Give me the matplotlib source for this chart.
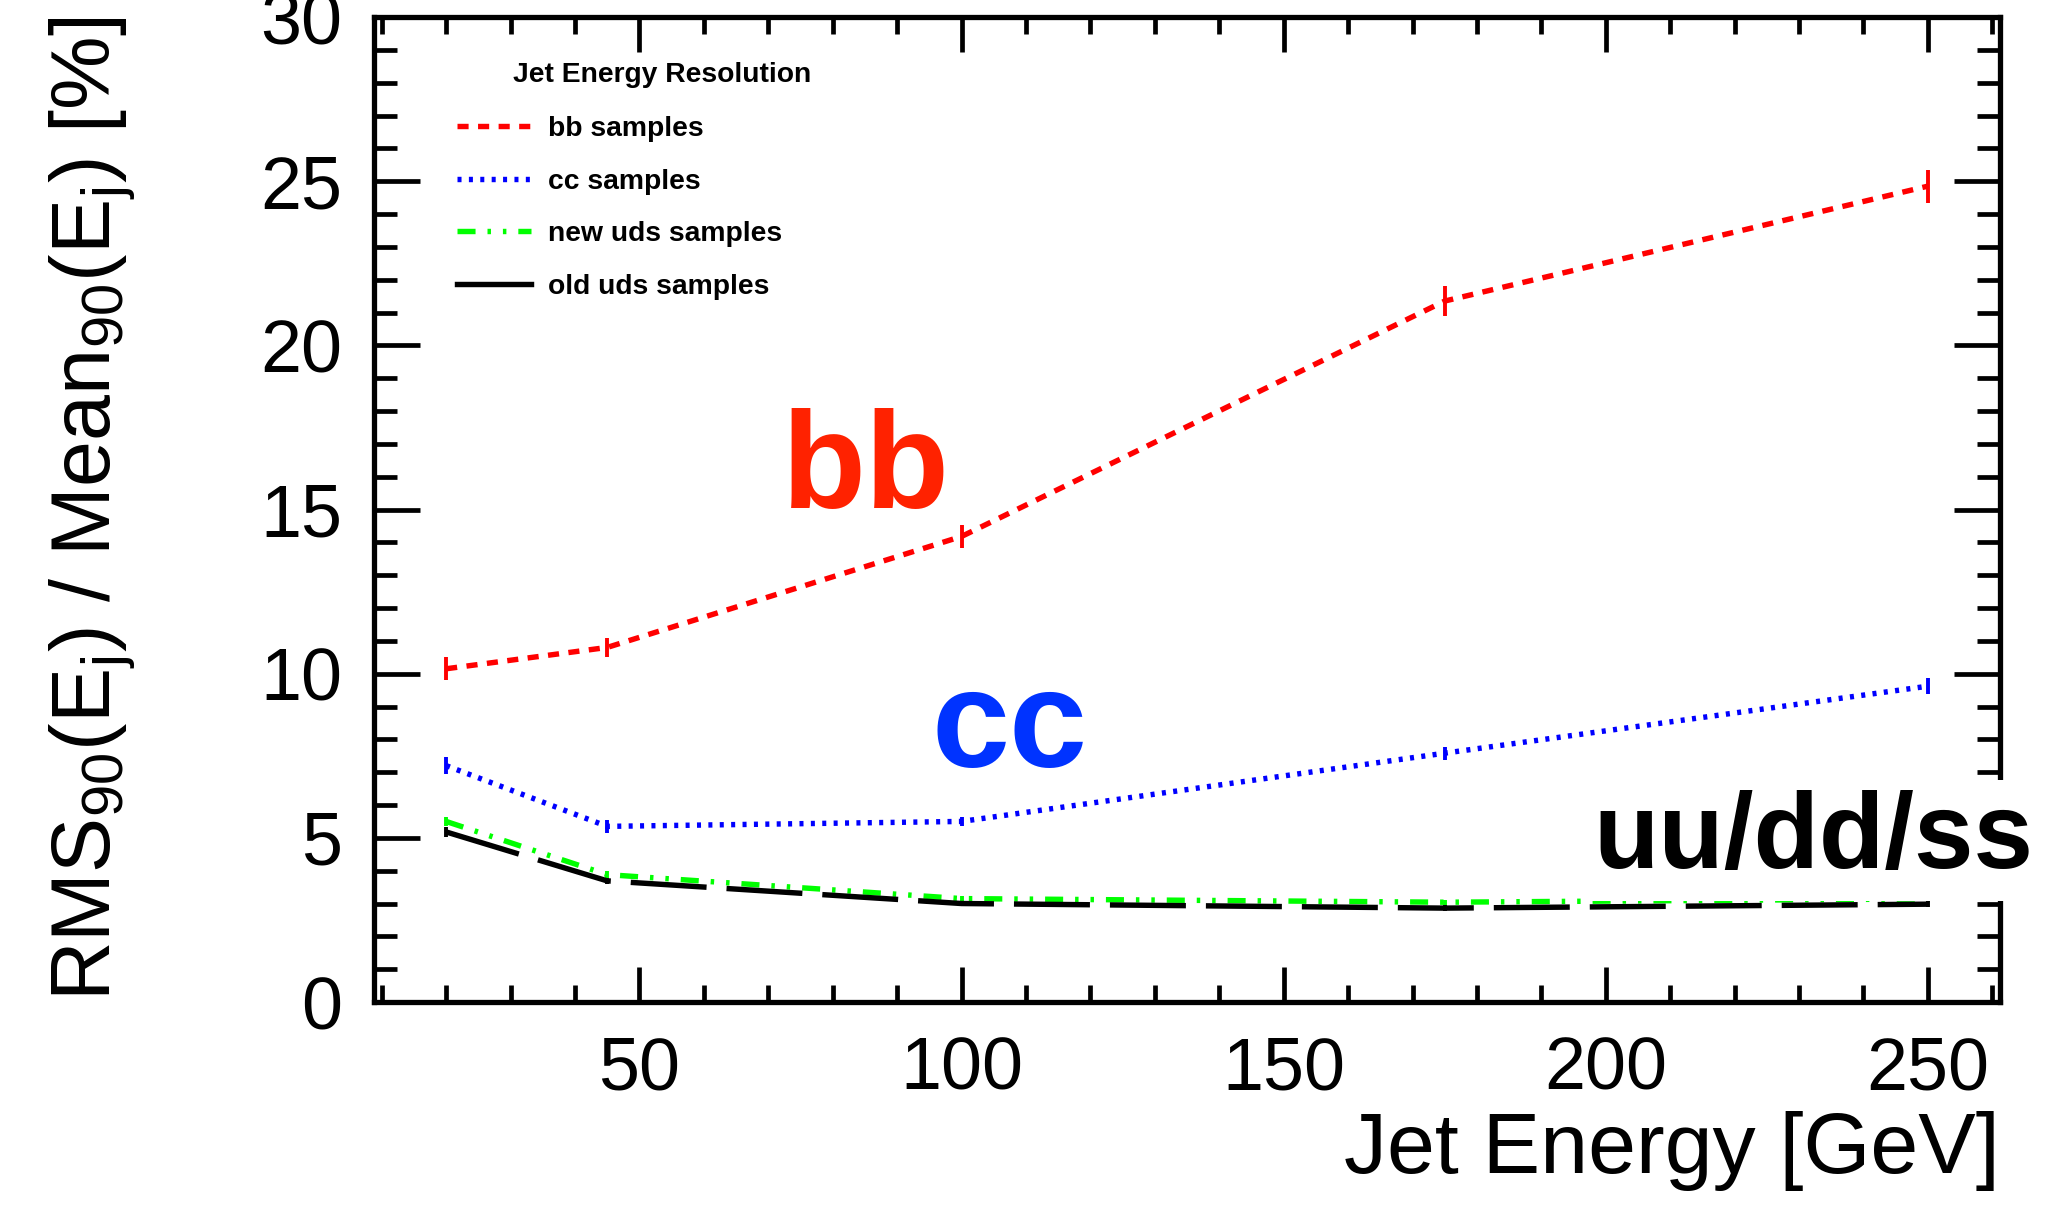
import matplotlib
matplotlib.use("Agg")
import matplotlib.pyplot as plt
from matplotlib.ticker import MultipleLocator, FixedLocator
from matplotlib.lines import Line2D

# ---- data: jet energy resolution vs jet energy ----
energy = [20, 45, 100, 175, 250]

bb_res = [10.15, 10.8, 14.18, 21.35, 24.85]
bb_err = [0.35, 0.30, 0.35, 0.45, 0.50]

cc_res = [7.20, 5.35, 5.50, 7.58, 9.62]
cc_err = [0.25, 0.20, 0.15, 0.20, 0.25]

uds_new_res = [5.50, 3.88, 3.15, 3.04, 3.14]
uds_new_err = [0.15, 0.10, 0.08, 0.08, 0.10]

uds_old_res = [5.18, 3.69, 3.00, 2.86, 2.98]
uds_old_err = [0.15, 0.10, 0.08, 0.08, 0.10]

series_labels = ["bb samples", "cc samples", "new uds samples", "old uds samples"]
x_major_ticks = [50, 100, 150, 200, 250]
y_major_ticks = [0, 5, 10, 15, 20, 25, 30]

# ---- style ----
plt.rcParams["font.family"] = ["Liberation Sans", "DejaVu Sans"]
plt.rcParams["mathtext.fontset"] = "custom"
plt.rcParams["mathtext.rm"] = "Liberation Sans"
plt.rcParams["mathtext.it"] = "Liberation Sans:italic"
plt.rcParams["mathtext.bf"] = "Liberation Sans:bold"
plt.rcParams["lines.scale_dashes"] = False

LW = 3.9
styles = [
    dict(color="#ff0000", ls=(0, (8.0, 6.8))),
    dict(color="#0000ff", ls=(0, (2.9, 5.3))),
    dict(color="#00ff00", ls=(0, (13.0, 8.6, 2.5, 8.6, 2.5, 8.6))),
    dict(color="#000000", ls=(0, (54.7, 14.4))),
]

fig = plt.figure(figsize=(20.48, 12.09), dpi=100)
ax = fig.add_axes([0.1826, 0.1712, 0.7940, 0.8147])

all_res = [bb_res, cc_res, uds_new_res, uds_old_res]
all_err = [bb_err, cc_err, uds_new_err, uds_old_err]
for res, err, st in zip(all_res, all_err, styles):
    ax.plot(energy, res, color=st["color"], linestyle=st["ls"], lw=LW,
            dash_capstyle="butt", zorder=4)
    ax.errorbar(energy, res, yerr=err, fmt="none", ecolor=st["color"],
                elinewidth=2.8, capsize=0, zorder=4)

ax.set_xlim(8.8, 261.2)
ax.set_ylim(0, 30)

ax.xaxis.set_major_locator(FixedLocator(x_major_ticks))
ax.xaxis.set_minor_locator(MultipleLocator(10))
ax.yaxis.set_major_locator(FixedLocator(y_major_ticks))
ax.yaxis.set_minor_locator(MultipleLocator(1))

for sp in ax.spines.values():
    sp.set_linewidth(3.8)

ax.tick_params(which="both", direction="in", top=True, right=True, width=3.4,
               labelsize=53)
ax.tick_params(axis="x", which="major", length=25, pad=24)
ax.tick_params(axis="x", which="minor", length=12)
ax.tick_params(axis="y", which="major", length=33, pad=23)
ax.tick_params(axis="y", which="minor", length=16.5)

# axis titles
ax.set_xlabel("Jet Energy [GeV]", fontsize=62, loc="right")
ax.xaxis.label.set_va("baseline")
ax.xaxis.set_label_coords(1.0, -0.1736)

ax.set_ylabel(r"RMS$_{\rm 90}$(E$_{\rm j}$) / Mean$_{\rm 90}$(E$_{\rm j}$) [%]",
              fontsize=59.5, loc="top")
ax.yaxis.label.set_va("top")
ax.yaxis.set_label_coords(-0.2006, 1.0)

# legend
LEG_FS = 20.3
handles = [Line2D([], [], color=st["color"], linestyle=st["ls"], lw=LW)
           for st in styles[:3]]
handles.append(Line2D([], [], color="black", linestyle="-", lw=LW))
ax.legend(handles, series_labels, loc="upper left",
          bbox_to_anchor=(0.051, 0.8995), frameon=False, borderpad=0,
          borderaxespad=0, handlelength=2.62, handletextpad=0.62,
          labelspacing=0.94, prop=dict(weight="bold", size=LEG_FS))
ax.text(0.0855, 0.9413, "Jet Energy Resolution", transform=ax.transAxes,
        fontsize=LEG_FS, fontweight="bold", ha="left", va="center")

# flavour annotations
ax.text(85.2, 15.06, "bb", color="#ff2200", fontsize=99, fontweight="bold",
        ha="center", va="baseline")
ax.text(107.5, 7.16, "cc", color="#0033ff", fontsize=101, fontweight="bold",
        ha="center", va="baseline")
ax.text(232.2, 4.07, "uu/dd/ss", color="black", fontsize=77, fontweight="bold",
        ha="center", va="baseline", zorder=6, clip_on=False,
        bbox=dict(facecolor="white", edgecolor="none", pad=8))

fig.savefig("out.png", dpi=100)
